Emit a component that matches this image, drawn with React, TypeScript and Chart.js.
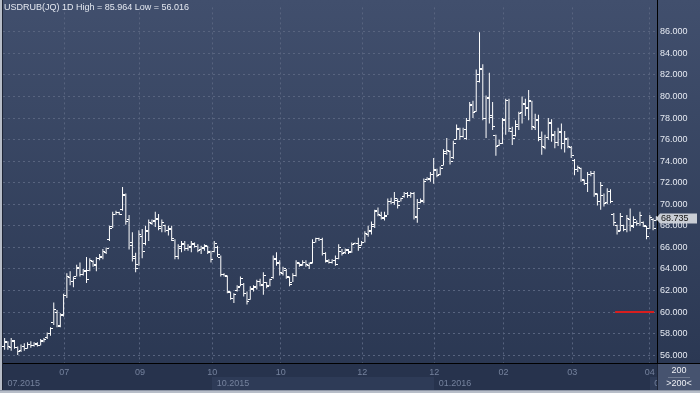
import React, { useEffect, useRef } from "react";
import { Chart, registerables } from "chart.js";
Chart.register(...registerables);

const highs = [
  57.6,57.3,57.6,57.4,56.8,57.0,57.1,57.2,57.3,57.2,
  57.2,57.5,57.6,58.1,58.6,60.9,60.2,59.9,61.7,63.6,
  63.8,63.3,64.4,64.6,64.0,65.1,65.0,64.8,65.1,65.4,
  65.85,66.0,68.0,69.3,69.4,69.3,71.6,71.0,69.0,67.4,
  65.5,67.6,67.7,68.0,68.6,68.6,69.3,69.1,68.6,68.1,
  68.0,68.0,66.75,66.3,66.6,66.6,66.3,66.6,66.45,66.3,
  66.15,66.3,66.15,65.7,66.6,66.15,65.25,63.6,63.4,61.9,
  61.75,62.5,63.3,62.7,61.9,62.4,62.5,63.0,63.1,63.7,
  62.8,63.1,65.25,65.55,64.8,64.2,64.0,63.3,63.6,64.8,
  64.6,64.8,64.8,64.6,66.75,66.9,66.9,66.9,65.55,64.9,
  64.9,65.25,66.3,65.85,65.9,65.85,66.45,66.45,66.9,66.6,
  67.5,68.0,68.4,69.5,69.7,69.3,69.3,70.55,70.6,71.15,
  70.55,70.6,71.15,71.15,71.15,71.15,70.5,70.55,72.4,72.5,
  73.0,74.3,73.3,73.5,75.1,76.15,75.0,75.9,77.4,77.1,
  77.1,78.0,79.5,79.6,82.5,85.96,83.0,80.1,82.2,79.5,
  76.45,76.0,78.0,79.8,79.8,77.2,77.8,78.6,80.0,79.8,
  80.6,79.6,78.4,78.3,76.75,76.45,78.0,77.9,76.8,77.1,
  77.5,76.8,76.2,75.4,74.2,73.6,73.4,72.3,73.0,73.1,
  73.1,71.0,72.06,71.0,71.5,71.4,69.2,68.1,69.2,68.1,
  69.0,69.6,68.9,68.5,69.3,68.4,68.0,69.0,68.7,68.9,
];

const lows = [
  56.5,56.5,56.4,56.6,56.02,56.3,56.4,56.6,56.7,56.8,
  56.8,56.9,57.2,57.5,57.8,58.8,58.6,58.6,59.6,61.3,
  62.5,62.3,63.3,63.3,63.4,62.7,63.8,64.2,63.8,64.8,
  64.9,65.4,66.6,67.8,69.0,69.0,69.4,68.1,65.8,64.7,
  63.7,64.3,65.0,66.2,66.6,68.1,67.9,67.6,67.4,67.4,
  67.1,66.6,64.9,64.9,65.55,65.7,65.7,65.55,66.0,65.55,
  65.4,65.7,65.4,64.6,65.55,65.1,63.3,63.3,61.75,61.15,
  60.85,61.9,62.4,61.45,60.7,61.15,61.9,62.1,62.4,61.6,
  62.2,62.4,63.1,64.3,63.4,63.4,63.1,62.4,62.8,63.3,
  64.2,64.3,64.2,64.0,64.5,66.45,66.6,65.25,64.6,64.5,
  64.5,64.3,64.9,65.25,65.4,65.4,65.5,66.3,65.7,66.15,
  66.45,67.0,67.2,67.8,68.9,68.6,68.5,69.0,70.0,69.95,
  69.6,70.25,70.6,70.6,70.6,68.6,68.3,70.1,70.1,72.2,
  72.1,71.9,72.5,72.7,73.6,74.6,73.7,74.2,76.0,76.0,
  76.2,76.0,77.7,78.0,78.6,81.3,77.8,76.15,77.5,76.9,
  74.5,75.4,75.6,76.45,76.7,75.5,76.3,76.9,77.5,78.2,
  77.8,76.9,76.9,75.85,74.6,75.1,76.0,75.8,75.2,75.4,
  75.1,74.8,75.2,74.3,72.7,73.0,72.1,71.8,71.15,72.6,
  70.7,69.9,69.5,69.8,70.0,70.1,68.0,67.2,67.5,67.5,
  67.4,67.5,67.8,68.0,68.0,67.9,66.75,67.7,67.6,68.5,
];

const opens = [
  56.8,57.2,56.7,57.3,56.7,56.4,56.8,56.6,57.0,56.9,
  57.0,56.9,57.3,57.6,58.0,59.0,60.0,58.7,59.8,61.5,
  63.2,62.8,63.3,64.0,63.5,63.8,63.9,64.7,64.3,65.0,
  65.1,65.5,66.7,67.9,69.1,69.2,69.5,70.8,68.6,66.5,
  65.2,64.4,67.0,66.4,67.5,68.2,68.4,68.6,67.8,68.0,
  67.6,67.7,66.6,65.2,65.9,66.3,65.9,66.0,66.3,66.1,
  65.8,65.9,66.1,65.5,65.6,66.0,65.1,63.5,63.3,61.8,
  61.3,62.0,62.4,62.6,61.7,61.2,62.1,62.3,62.8,62.5,
  62.7,62.5,63.2,64.9,64.6,63.6,63.9,63.2,62.7,63.4,
  64.5,64.4,64.6,64.3,64.6,66.5,66.8,66.7,65.4,64.7,
  64.6,64.8,65.0,65.6,65.5,65.7,65.6,66.35,66.4,66.2,
  66.5,67.2,67.5,67.9,69.4,69.0,68.7,69.0,70.3,70.2,
  70.4,70.3,70.7,71.0,70.8,71.0,68.8,70.2,70.3,72.3,
  72.3,72.8,73.1,72.8,73.6,74.7,74.9,74.3,76.0,76.9,
  76.3,76.1,77.8,79.2,78.6,81.4,82.6,78.0,79.8,78.2,
  76.4,75.5,75.6,77.9,79.6,76.8,76.4,77.2,78.5,79.4,
  79.0,79.5,77.1,77.9,76.2,75.3,76.2,77.5,76.4,75.7,
  76.7,75.6,76.0,75.3,74.1,73.2,73.3,72.2,71.9,72.8,
  72.9,70.9,70.3,70.8,70.2,71.2,69.1,68.0,67.6,68.0,
  67.7,68.6,68.0,68.3,68.2,68.3,67.9,67.8,68.6,68.5,
];

const closes = [
  57.3,56.8,57.4,56.7,56.3,56.8,56.6,57.0,56.9,57.1,
  56.9,57.4,57.5,58.0,58.5,60.2,58.8,59.7,61.5,63.3,
  62.8,63.1,64.1,63.5,63.9,63.0,64.8,64.4,65.0,65.2,
  65.6,65.9,67.8,69.1,69.2,69.1,70.9,68.4,66.2,65.0,
  64.0,67.2,65.6,67.6,68.3,68.5,68.7,67.9,68.3,67.6,
  67.8,66.8,65.2,66.1,66.4,65.9,66.1,66.4,66.1,65.7,
  66.0,66.2,65.6,64.9,66.4,65.3,63.5,63.4,61.9,61.3,
  61.6,62.3,63.1,61.7,61.0,62.2,62.4,62.8,62.6,63.4,
  62.4,63.0,65.0,64.5,63.7,64.0,63.3,62.6,63.4,64.6,
  64.3,64.6,64.4,64.5,66.5,66.8,66.7,65.4,64.8,64.6,
  64.8,64.4,66.0,65.4,65.8,65.5,66.3,66.4,66.0,66.5,
  67.3,67.6,68.1,69.3,69.1,68.8,68.9,70.3,70.2,70.5,
  69.9,70.5,71.0,70.8,71.0,68.9,69.6,70.4,72.1,72.4,
  72.8,73.2,72.7,73.3,74.9,75.0,74.0,75.6,77.0,76.3,
  76.9,77.8,79.3,78.5,82.0,82.5,78.0,79.9,78.1,77.2,
  75.4,75.6,77.8,79.6,77.0,76.1,77.4,78.4,79.3,78.9,
  79.6,77.2,77.8,76.0,75.4,76.2,77.6,76.5,75.7,76.8,
  75.6,76.1,75.4,74.5,73.2,73.4,72.3,71.9,72.8,72.9,
  71.0,70.3,71.7,70.1,71.2,70.3,68.3,67.5,68.9,67.7,
  68.7,67.9,68.6,68.2,69.0,68.0,67.0,68.8,67.8,68.735,
];

const yTicks = [56, 58, 60, 62, 64, 66, 68, 70, 72, 74, 76, 78, 80, 82, 84, 86];
const xTickPos = [18.2, 41.3, 63.4, 84.3, 109.2, 131.2, 152.3, 173.3, 197.0];
const xTickLabels = ["07", "09", "10", "10", "12", "12", "02", "03", "04"];
const periodStarts = [-0.5, 63.4, 131.2, 197.0];
const periodLabels = ["07.2015", "10.2015", "01.2016", "04.2016"];
const redLine = [{ x: 186.4, y: 60 }, { x: 198.3, y: 60 }];
const titleText = "USDRUB(JQ) 1D High = 85.964 Low = 56.016";
const lastPrice = 68.735;
const barsCountTop = "200";
const barsCountBottom = ">200<";

const FONT = '"Liberation Sans", Arial, sans-serif';
const Y_MIN = 56 - 9 / 11;
const Y_MAX = Y_MIN + 364 / 11;

const bgPlugin = {
  id: "bgPlugin",
  beforeDraw(chart: any) {
    const { ctx, width, height, chartArea: a } = chart;
    const xs = chart.scales.x;
    ctx.save();
    ctx.fillStyle = "#b7bdc8";
    ctx.fillRect(0, 0, width, height);
    const g = ctx.createLinearGradient(0, 0, 0, a.bottom);
    g.addColorStop(0, "#414f6d");
    g.addColorStop(1, "#2b3853");
    ctx.fillStyle = g;
    ctx.fillRect(2, 0, width - 2, a.bottom);
    ctx.fillStyle = "#1d2435";
    ctx.fillRect(2, 0, 1, a.bottom + 26);
    // x axis band
    ctx.fillStyle = "#27334d";
    ctx.fillRect(3, a.bottom, a.right - 3, 26);
    // alternating period boxes
    for (let k = 0; k < periodStarts.length; k++) {
      const x0 = Math.max(3, Math.round(xs.getPixelForValue(periodStarts[k])));
      const x1 = k + 1 < periodStarts.length ? Math.round(xs.getPixelForValue(periodStarts[k + 1])) : a.right;
      if (k % 2 === 1) {
        ctx.fillStyle = "#2e3b57";
        ctx.fillRect(x0, a.bottom + 13, Math.min(x1, a.right) - x0, 13);
      }
    }
    // bottom-right box
    ctx.fillStyle = "#46536f";
    ctx.fillRect(a.right, a.bottom, width - a.right, 26);
    ctx.fillStyle = "#8e96a6";
    ctx.fillRect(0, a.bottom + 26, width, 1);
    ctx.restore();
  },
};

const ticksPlugin = {
  id: "ticksPlugin",
  afterDatasetsDraw(chart: any) {
    const { ctx } = chart;
    const ys = chart.scales.y;
    const meta = chart.getDatasetMeta(0);
    ctx.save();
    ctx.fillStyle = "#ffffff";
    meta.data.forEach((el: any, i: number) => {
      const x = Math.floor(el.x);
      const yo = Math.round(ys.getPixelForValue(opens[i]) - 0.5);
      const yc = Math.round(ys.getPixelForValue(closes[i]) - 0.5);
      ctx.fillRect(x - 2, yo, 2, 1);
      ctx.fillRect(x + 1, yc, 2, 1);
    });
    ctx.restore();
  },
};

const overlayPlugin = {
  id: "overlayPlugin",
  afterDraw(chart: any) {
    const { ctx, width, chartArea: a } = chart;
    const xs = chart.scales.x;
    const ys = chart.scales.y;
    ctx.save();
    // borders
    ctx.fillStyle = "#000000";
    ctx.fillRect(a.right - 1, 0, 1, a.bottom);
    ctx.fillRect(3, a.bottom - 1, width - 3, 1);
    ctx.fillStyle = "#1d2435";
    ctx.fillRect(a.right - 1, a.bottom, 1, 26);
    // title
    ctx.font = `9px ${FONT}`;
    ctx.textBaseline = "middle";
    ctx.textAlign = "left";
    ctx.fillStyle = "#e4e8f0";
    ctx.fillText(titleText, 4, 8);
    // period labels
    ctx.save();
    ctx.beginPath();
    ctx.rect(3, a.bottom, a.right - 4, 26);
    ctx.clip();
    ctx.fillStyle = "#75829d";
    for (let k = 0; k < periodStarts.length; k++) {
      const x0 = Math.max(3, xs.getPixelForValue(periodStarts[k]));
      ctx.fillText(periodLabels[k], x0 + 4.5, a.bottom + 20);
    }
    ctx.restore();
    // last price label
    const py = Math.round(ys.getPixelForValue(lastPrice)) + 0.5;
    ctx.fillStyle = "#c9cdd5";
    ctx.beginPath();
    ctx.moveTo(a.right - 2, py);
    ctx.lineTo(a.right + 2, py - 5);
    ctx.lineTo(width - 3, py - 5);
    ctx.lineTo(width - 3, py + 5);
    ctx.lineTo(a.right + 2, py + 5);
    ctx.closePath();
    ctx.fill();
    ctx.fillStyle = "#111111";
    ctx.fillText(lastPrice.toFixed(3), a.right + 3, py);
    // bottom-right box
    const cx = (a.right + width) / 2;
    ctx.textAlign = "center";
    ctx.fillStyle = "#eef0f5";
    ctx.fillText(barsCountTop, cx, a.bottom + 7);
    ctx.fillText(barsCountBottom, cx, a.bottom + 20);
    ctx.fillStyle = "#6f7a90";
    ctx.fillRect(cx - 11, a.bottom + 13, 22, 1);
    ctx.restore();
  },
};

export default function App() {
  const ref = useRef<HTMLCanvasElement | null>(null);
  useEffect(() => {
    document.body.style.margin = "0";
    const canvas = ref.current;
    if (!canvas) return;
    const chart = new Chart(canvas, {
      type: "bar",
      data: {
        datasets: [
          {
            type: "bar",
            data: highs.map((h, i) => ({ x: i, y: [lows[i], h] })) as any,
            backgroundColor: "#ffffff",
            barThickness: 1,
            borderWidth: 0,
            inflateAmount: 0,
            grouped: false,
          } as any,
          {
            type: "line",
            data: redLine as any,
            borderColor: "#d81e1e",
            borderWidth: 2,
            pointRadius: 0,
            fill: false,
          } as any,
        ],
      },
      options: {
        animation: false,
        responsive: false,
        maintainAspectRatio: false,
        events: [],
        layout: { padding: { left: 3, right: 0, top: 0, bottom: 3 } },
        plugins: { legend: { display: false }, tooltip: { enabled: false } },
        scales: {
          x: {
            type: "linear",
            position: "bottom",
            min: -0.5,
            max: 199.5,
            offset: false,
            afterBuildTicks: (s: any) => {
              s.ticks = xTickPos.map((v) => ({ value: v }));
            },
            afterFit: (s: any) => {
              s.height = 26;
            },
            ticks: {
              autoSkip: false,
              maxRotation: 0,
              padding: 3,
              color: "#75829d",
              font: { family: FONT, size: 9 },
              callback: (_v: any, idx: number) => xTickLabels[idx],
            },
            grid: { color: "#58647f", lineWidth: 1, drawTicks: false, offset: false },
            border: { display: false, dash: [2, 3] },
          },
          y: {
            type: "linear",
            position: "right",
            min: Y_MIN,
            max: Y_MAX,
            afterBuildTicks: (s: any) => {
              s.ticks = yTicks.map((v) => ({ value: v }));
            },
            afterFit: (s: any) => {
              s.width = 42;
            },
            ticks: {
              padding: 2,
              color: "#e6eaf2",
              font: { family: FONT, size: 9 },
              callback: (v: any) => Number(v).toFixed(3),
            },
            grid: { color: "#58647f", lineWidth: 1, drawTicks: false },
            border: { display: false, dash: [2, 3] },
          },
        },
      } as any,
      plugins: [bgPlugin, ticksPlugin, overlayPlugin],
    });
    return () => chart.destroy();
  }, []);
  return (
    <div style={{ width: 700, height: 393 }}>
      <canvas ref={ref} width={700} height={393} style={{ display: "block" }} />
    </div>
  );
}
